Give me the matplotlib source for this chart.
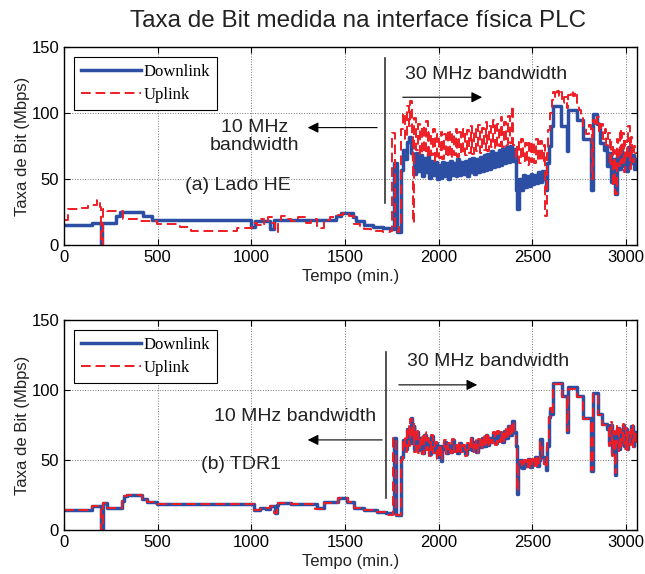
import matplotlib
matplotlib.use('Agg')
import matplotlib.pyplot as plt

plt.rcParams['font.family'] = ['Liberation Sans', 'DejaVu Sans']

# (tempo em min., taxa em Mbps), degraus
top_down = [(0, 15), (150, 17), (195, 0), (205, 17), (280, 22), (300, 25), (420, 22), (470, 19),
            (1000, 14), (1020, 18), (1100, 12), (1120, 19), (1450, 22), (1480, 24), (1540, 21),
            (1560, 18), (1600, 15), (1650, 14), (1700, 13), (1740, 12), (1760, 62), (1775, 10),
            (1800, 57), (1810, 72), (1820, 65), (1830, 78), (1840, 82), (1850, 70), (1860, 66),
            (1870, 54), (1880, 70), (1890, 56), (1900, 68), (1910, 52), (1920, 66), (1930, 55),
            (1940, 69), (1950, 51), (1960, 64), (1970, 53), (1980, 63), (1990, 50), (2000, 61),
            (2010, 51), (2020, 63), (2030, 52), (2040, 62), (2050, 50), (2060, 64), (2070, 53),
            (2080, 62), (2090, 52), (2100, 65), (2110, 53), (2120, 63), (2130, 54), (2140, 64),
            (2150, 52), (2160, 65), (2170, 55), (2180, 66), (2190, 54), (2200, 65), (2210, 55),
            (2220, 67), (2230, 56), (2240, 68), (2250, 57), (2260, 69), (2270, 58), (2280, 71),
            (2290, 59), (2300, 70), (2310, 60), (2320, 72), (2330, 61), (2340, 73), (2350, 62),
            (2360, 74), (2370, 63), (2380, 75), (2390, 64), (2400, 73), (2410, 42), (2420, 27),
            (2430, 50), (2440, 42), (2450, 53), (2460, 44), (2470, 52), (2480, 45), (2490, 54),
            (2500, 46), (2510, 53), (2520, 47), (2530, 55), (2540, 48), (2550, 56), (2560, 50),
            (2570, 42), (2580, 62), (2590, 75), (2600, 90), (2610, 105), (2655, 90), (2683, 71),
            (2692, 102), (2740, 95), (2772, 80), (2815, 42), (2823, 99), (2844, 92), (2862, 77),
            (2880, 72), (2890, 75), (2900, 60), (2910, 70), (2920, 48), (2930, 65), (2940, 39),
            (2950, 68), (2960, 58), (2970, 72), (2980, 60), (2990, 70), (3000, 56), (3010, 74),
            (3020, 62), (3030, 68), (3040, 58), (3050, 65), (3060, 65)]

top_up = [(0, 19), (20, 27), (80, 28), (130, 30), (175, 34), (190, 29), (200, 0), (210, 27),
          (230, 26), (315, 20), (395, 18), (495, 16), (620, 14), (680, 11), (925, 13), (1005, 17),
          (1030, 15), (1050, 20), (1070, 16), (1090, 21), (1110, 17), (1128, 10), (1140, 19),
          (1160, 22), (1180, 20), (1210, 18), (1250, 21), (1290, 17), (1320, 20), (1350, 14),
          (1370, 13), (1390, 19), (1420, 21), (1460, 23), (1490, 24), (1520, 22), (1550, 16),
          (1580, 14), (1600, 12), (1640, 11), (1700, 10), (1740, 11), (1750, 85), (1765, 12),
          (1780, 10), (1790, 14), (1800, 88), (1810, 100), (1820, 80), (1830, 105), (1840, 90),
          (1848, 109), (1855, 82), (1862, 17), (1870, 96), (1880, 72), (1890, 92), (1900, 68),
          (1910, 90), (1920, 70), (1930, 94), (1940, 66), (1950, 86), (1960, 68), (1970, 88),
          (1980, 64), (1990, 84), (2000, 66), (2010, 86), (2020, 65), (2030, 84), (2040, 67),
          (2050, 87), (2060, 66), (2070, 85), (2080, 68), (2090, 88), (2100, 67), (2110, 86),
          (2120, 69), (2130, 88), (2140, 68), (2150, 87), (2160, 70), (2170, 90), (2180, 69),
          (2190, 88), (2200, 71), (2210, 91), (2220, 70), (2230, 89), (2240, 72), (2250, 93),
          (2260, 71), (2270, 90), (2280, 74), (2290, 95), (2300, 73), (2310, 92), (2320, 75),
          (2330, 97), (2340, 74), (2350, 93), (2360, 76), (2370, 98), (2380, 77), (2390, 105),
          (2398, 76), (2410, 65), (2420, 78), (2430, 62), (2440, 80), (2450, 64), (2460, 77),
          (2470, 61), (2480, 79), (2490, 63), (2500, 78), (2510, 62), (2520, 80), (2530, 64),
          (2540, 79), (2550, 63), (2560, 76), (2568, 22), (2578, 70), (2585, 87), (2595, 100),
          (2605, 110), (2612, 116), (2620, 112), (2630, 117), (2640, 113), (2650, 116),
          (2658, 108), (2670, 112), (2683, 104), (2692, 114), (2705, 117), (2715, 113),
          (2725, 116), (2737, 108), (2750, 102), (2760, 98), (2772, 90), (2785, 84), (2800, 91),
          (2812, 86), (2818, 50), (2825, 95), (2835, 90), (2845, 97), (2855, 86), (2865, 92),
          (2875, 80), (2885, 88), (2895, 76), (2905, 85), (2913, 60), (2920, 78), (2928, 45),
          (2935, 72), (2943, 39), (2950, 80), (2958, 60), (2965, 88), (2972, 62), (2980, 85),
          (2988, 55), (2995, 79), (3003, 65), (3010, 90), (3018, 58), (3025, 82), (3033, 63),
          (3040, 75), (3048, 70), (3060, 70)]

bot_down = [(0, 14), (147, 17), (200, 0), (208, 19), (228, 16), (308, 21), (320, 24), (335, 25),
            (414, 22), (442, 20), (495, 18.6), (1012, 14), (1048, 16), (1080, 15), (1100, 17),
            (1125, 12), (1135, 18), (1140, 19), (1210, 18.6), (1350, 16), (1390, 19.7),
            (1460, 23), (1510, 20), (1550, 16), (1600, 14), (1670, 13), (1720, 12), (1760, 66),
            (1772, 11), (1800, 52), (1810, 64), (1820, 58), (1830, 72), (1840, 62), (1850, 80),
            (1858, 66), (1866, 74), (1870, 58), (1880, 70), (1890, 57), (1900, 66), (1910, 55),
            (1920, 68), (1930, 59), (1940, 64), (1950, 54), (1960, 67), (1970, 56), (1980, 62),
            (1990, 52), (2000, 60), (2010, 49), (2020, 58), (2030, 63), (2040, 55), (2050, 61),
            (2060, 56), (2070, 64), (2080, 57), (2090, 60), (2100, 55), (2110, 62), (2120, 57),
            (2130, 60), (2140, 54), (2150, 61), (2160, 58), (2170, 66), (2180, 57), (2190, 63),
            (2200, 56), (2210, 64), (2220, 59), (2230, 66), (2240, 60), (2250, 68), (2260, 61),
            (2270, 66), (2280, 63), (2290, 69), (2300, 62), (2310, 70), (2320, 64), (2330, 69),
            (2340, 63), (2350, 71), (2360, 66), (2370, 74), (2380, 68), (2390, 78), (2400, 70),
            (2410, 60), (2418, 26), (2425, 45), (2435, 50), (2445, 44), (2455, 49), (2465, 46),
            (2475, 51), (2485, 45), (2495, 50), (2505, 47), (2515, 52), (2525, 46), (2535, 50),
            (2542, 65), (2550, 52), (2560, 48), (2570, 43), (2580, 60), (2586, 81), (2595, 86),
            (2605, 83), (2611, 105), (2656, 96), (2683, 70), (2692, 102), (2737, 96), (2772, 80),
            (2815, 42), (2823, 98), (2850, 83), (2870, 76), (2900, 72), (2908, 62), (2915, 75),
            (2922, 55), (2930, 70), (2938, 39), (2945, 60), (2952, 73), (2960, 58), (2968, 70),
            (2975, 62), (2982, 75), (2990, 60), (2998, 72), (3005, 58), (3012, 68), (3020, 63),
            (3028, 74), (3035, 60), (3042, 70), (3050, 64), (3060, 64)]

bot_up = [(0, 14), (147, 17), (200, 0), (208, 19), (228, 16), (308, 21), (320, 24), (335, 25),
          (414, 22), (442, 20), (495, 18.6), (1012, 14), (1048, 15), (1080, 16), (1100, 17),
          (1122, 12), (1135, 17), (1140, 19), (1210, 18.6), (1340, 15), (1390, 19), (1460, 23),
          (1515, 20), (1550, 16), (1600, 14), (1670, 13), (1720, 11), (1758, 66), (1770, 11),
          (1798, 50), (1808, 66), (1818, 56), (1828, 74), (1840, 60), (1848, 79), (1858, 64),
          (1866, 76), (1870, 56), (1880, 72), (1890, 55), (1900, 67), (1910, 54), (1920, 70),
          (1930, 57), (1940, 66), (1950, 53), (1960, 68), (1970, 55), (1980, 63), (1990, 51),
          (2000, 61), (2010, 50), (2020, 59), (2030, 64), (2040, 54), (2050, 62), (2060, 55),
          (2070, 65), (2080, 56), (2090, 61), (2100, 54), (2110, 63), (2120, 56), (2130, 61),
          (2140, 53), (2150, 62), (2160, 57), (2170, 67), (2180, 56), (2190, 64), (2200, 55),
          (2210, 65), (2220, 58), (2230, 67), (2240, 59), (2250, 69), (2260, 60), (2270, 67),
          (2280, 62), (2290, 70), (2300, 61), (2310, 71), (2320, 63), (2330, 70), (2340, 62),
          (2350, 72), (2360, 65), (2370, 75), (2380, 67), (2390, 77), (2400, 71), (2410, 58),
          (2418, 28), (2425, 46), (2435, 49), (2445, 45), (2455, 50), (2465, 45), (2475, 52),
          (2485, 44), (2495, 51), (2505, 46), (2515, 53), (2525, 45), (2535, 51), (2542, 63),
          (2550, 53), (2560, 47), (2570, 44), (2580, 62), (2586, 80), (2595, 87), (2605, 82),
          (2611, 104), (2656, 95), (2683, 71), (2692, 101), (2737, 95), (2772, 79), (2815, 43),
          (2823, 97), (2850, 82), (2870, 75), (2900, 73), (2908, 60), (2915, 77), (2922, 53),
          (2930, 71), (2938, 41), (2945, 62), (2952, 75), (2960, 56), (2968, 72), (2975, 60),
          (2982, 76), (2990, 58), (2998, 73), (3005, 57), (3012, 70), (3020, 61), (3028, 75),
          (3035, 59), (3042, 71), (3050, 63), (3060, 63)]

x_ticks = [0, 500, 1000, 1500, 2000, 2500, 3000]
y_ticks = [0, 50, 100, 150]

BLUE = '#2d4fa3'
RED = '#ee1d25'
TXT = '#222222'

fig = plt.figure(figsize=(6.45, 5.74), dpi=100)
ax1 = fig.add_axes([0.0992, 0.573, 0.8884, 0.345])
ax2 = fig.add_axes([0.0992, 0.0767, 0.8884, 0.366])


def draw(ax, down, up):
    t, v = zip(*down)
    ax.plot(t, v, color=BLUE, lw=2.5, drawstyle='steps-post', label='Downlink')
    t, v = zip(*up)
    ax.plot(t, v, color=RED, lw=1.4, ls=(0, (5, 2.5)), drawstyle='steps-post', label='Uplink')
    ax.set_xlim(0, 3058)
    ax.set_ylim(0, 150)
    ax.set_xticks(x_ticks)
    ax.set_yticks(y_ticks)
    ax.tick_params(direction='in', top=True, right=True, length=4, labelsize=12, colors='k')
    ax.grid(True, ls=':', color='#777777', lw=0.7)
    for s in ax.spines.values():
        s.set_linewidth(1.0)
    ax.set_xlabel('Tempo (min.)', fontsize=12, labelpad=3, color=TXT)
    ax.set_ylabel('Taxa de Bit (Mbps)', fontsize=12, labelpad=1, color=TXT)
    leg = ax.legend(loc='upper left', prop={'family': 'Liberation Serif', 'size': 12},
                    handlelength=3.6, fancybox=False, framealpha=1, edgecolor='k',
                    borderaxespad=0.6, labelspacing=0.45, handletextpad=0.2)
    leg.get_frame().set_linewidth(0.8)


draw(ax1, top_down, top_up)
draw(ax2, bot_down, bot_up)

arrow = dict(arrowstyle='-|>', color='k', lw=0.8, mutation_scale=16)

# painel (a)
ax1.plot([1713, 1713], [32, 142], color='#333333', lw=1.2)
ax1.text(1820, 129, '30 MHz bandwidth', fontsize=14, color=TXT, va='center')
ax1.annotate('', xy=(2246, 112), xytext=(1793, 112), arrowprops=arrow)
ax1.text(1019, 82, '10 MHz\nbandwidth', fontsize=14, color=TXT, ha='center', va='center',
         linespacing=1.1)
ax1.annotate('', xy=(1286, 89), xytext=(1686, 89), arrowprops=arrow)
ax1.text(929, 45.5, '(a) Lado HE', fontsize=14, color=TXT, ha='center', va='center')

# painel (b)
ax2.plot([1718, 1718], [23, 127], color='#333333', lw=1.2)
ax2.text(1830, 120.5, '30 MHz bandwidth', fontsize=14, color=TXT, va='center')
ax2.annotate('', xy=(2220, 103.6), xytext=(1772, 103.6), arrowprops=arrow)
ax2.text(1233, 80.7, '10 MHz bandwidth', fontsize=14, color=TXT, ha='center', va='center')
ax2.annotate('', xy=(1286, 64.3), xytext=(1713, 64.3), arrowprops=arrow)
ax2.text(944, 47, '(b) TDR1', fontsize=14, color=TXT, ha='center', va='center')

fig.text(0.555, 0.963, 'Taxa de Bit medida na interface física PLC', fontsize=17.5,
         ha='center', va='center', color=TXT)

fig.savefig('out.png', dpi=100)
